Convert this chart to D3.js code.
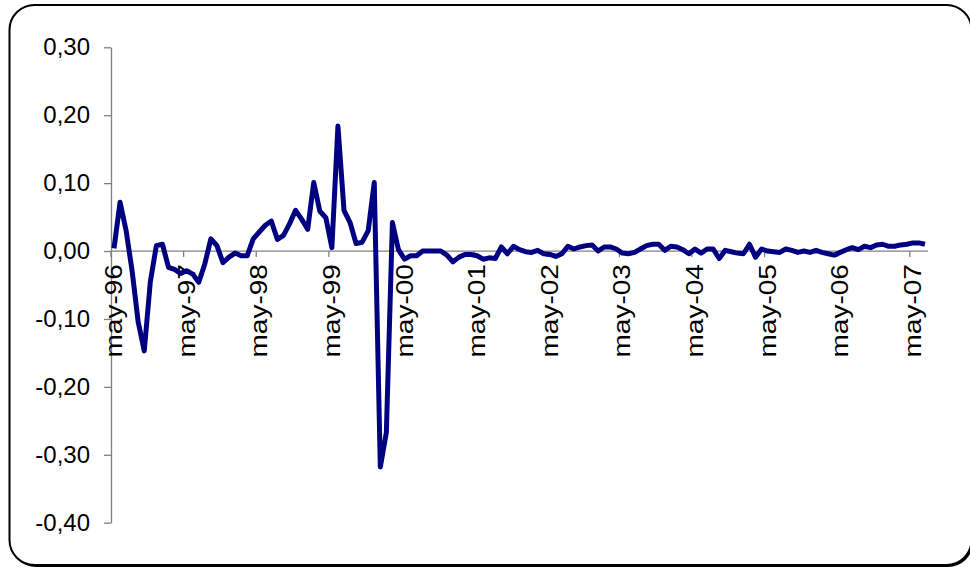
<!DOCTYPE html>
<html>
<head>
<meta charset="utf-8">
<script src="https://cdn.jsdelivr.net/npm/d3@7"></script>
<style>
  body { margin: 0; background: #fff; }
  svg { display: block; font-family: "Liberation Sans", Arial, sans-serif; }
</style>
</head>
<body>
<svg id="chart" width="970" height="568"></svg>
<script>
// monthly series, may-96 .. jul-07
var startMonth = new Date(1996, 4, 1);
var endMonth = new Date(2007, 7, 1);
var months = d3.timeMonth.range(startMonth, endMonth);

var values = [
  0.004, 0.072, 0.030, -0.030, -0.105, -0.147, -0.045, 0.008, 0.010, -0.024, -0.027, -0.033,
  -0.029, -0.034, -0.046, -0.019, 0.018, 0.008, -0.017, -0.009, -0.003, -0.007, -0.007, 0.018,
  0.028, 0.038, 0.044, 0.017, 0.023, 0.040, 0.060, 0.047, 0.032, 0.101, 0.059, 0.049,
  0.005, 0.184, 0.060, 0.042, 0.011, 0.013, 0.030, 0.101, -0.318, -0.267, 0.042, 0.002,
  -0.012, -0.007, -0.007, 0.000, 0.000, 0.000, 0.000, -0.006, -0.016, -0.009, -0.005, -0.005,
  -0.007, -0.012, -0.010, -0.011, 0.006, -0.004, 0.007, 0.002, -0.001, -0.002, 0.001, -0.004,
  -0.005, -0.008, -0.004, 0.007, 0.003, 0.006, 0.008, 0.009, 0.000, 0.006, 0.006, 0.003,
  -0.003, -0.004, -0.002, 0.003, 0.008, 0.010, 0.010, 0.001, 0.007, 0.006, 0.002, -0.004,
  0.003, -0.003, 0.003, 0.003, -0.011, 0.001, -0.001, -0.003, -0.004, 0.010, -0.009, 0.003,
  0.000, -0.001, -0.002, 0.003, 0.001, -0.002, 0.000, -0.002, 0.001, -0.002, -0.004, -0.006,
  -0.002, 0.002, 0.005, 0.002, 0.007, 0.005, 0.009, 0.010, 0.007, 0.007, 0.009, 0.010,
  0.012, 0.012, 0.010
];

var xTickLabels = ["may-96", "may-97", "may-98", "may-99", "may-00", "may-01",
                   "may-02", "may-03", "may-04", "may-05", "may-06", "may-07"];
var yTicks = [-0.40, -0.30, -0.20, -0.10, 0.00, 0.10, 0.20, 0.30];

var svg = d3.select("#chart");

// frame with shadow
svg.append("rect")
  .attr("x", 11).attr("y", 7).attr("width", 962).attr("height", 560)
  .attr("rx", 25).attr("ry", 25)
  .attr("fill", "#000");
svg.append("rect")
  .attr("x", 9.5).attr("y", 5).attr("width", 962).attr("height", 560)
  .attr("rx", 25).attr("ry", 25)
  .attr("fill", "#fff").attr("stroke", "#000").attr("stroke-width", 2);

var x = d3.scaleBand()
  .domain(months)
  .range([111, 928])
  .padding(0);

var y = d3.scaleLinear()
  .domain([-0.4, 0.3])
  .range([522.7, 47.3]);

var locale = d3.formatLocale({ decimal: ",", thousands: ".", grouping: [3], currency: ["", ""], minus: "-" });
var fmt = locale.format(".2f");

// y axis
var yAxis = svg.append("g")
  .attr("transform", "translate(111,0)")
  .call(d3.axisLeft(y).tickValues(yTicks).tickFormat(fmt).tickSize(7).tickSizeOuter(0).tickPadding(14));
yAxis.select(".domain").attr("stroke", "#808080").attr("stroke-width", 1.3);
yAxis.selectAll(".tick line").attr("stroke", "#808080").attr("stroke-width", 1.3);
yAxis.selectAll(".tick text")
  .attr("fill", "#000")
  .style("font-size", "24px")
  .style("font-family", "'Liberation Sans', Arial, sans-serif");

// x axis at zero
var y0 = y(0);
svg.append("line")
  .attr("x1", 111).attr("x2", 928)
  .attr("y1", y0).attr("y2", y0)
  .attr("stroke", "#808080").attr("stroke-width", 1.3);

var labelMonths = months.filter((d, i) => i % 12 === 0);

svg.selectAll(".xtick")
  .data(labelMonths)
  .enter().append("line")
  .attr("class", "xtick")
  .attr("x1", d => x(d)).attr("x2", d => x(d))
  .attr("y1", y0).attr("y2", y0 + 6)
  .attr("stroke", "#808080").attr("stroke-width", 1.3);

// labels are a bit stretched along their length in the original
svg.selectAll(".xlabel")
  .data(labelMonths)
  .enter().append("text")
  .attr("class", "xlabel")
  .attr("transform", d => `translate(${x(d) + x.bandwidth() / 2},${y0 + 13}) rotate(-90) scale(1.22,1)`)
  .attr("text-anchor", "end")
  .attr("dy", "0.35em")
  .style("font-size", "23px")
  .text((d, i) => xTickLabels[i]);

// series line
var line = d3.line()
  .x((d, i) => x(months[i]) + x.bandwidth() / 2)
  .y(d => y(d));

svg.append("path")
  .datum(values)
  .attr("d", line)
  .attr("fill", "none")
  .attr("stroke", "#000080")
  .attr("stroke-width", 5)
  .attr("stroke-linejoin", "round");
</script>
</body>
</html>
